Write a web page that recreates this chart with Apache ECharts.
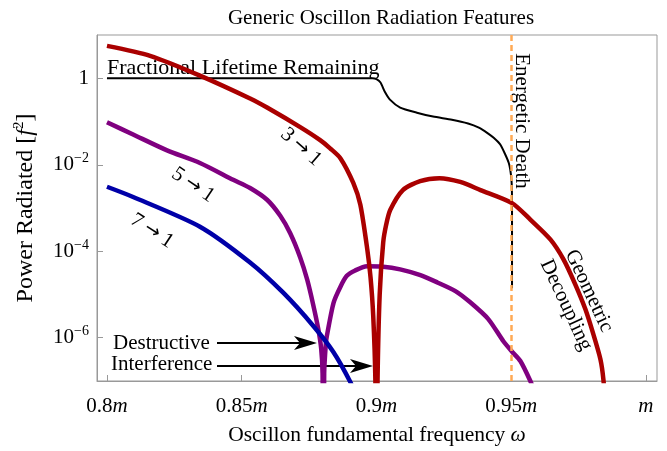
<!DOCTYPE html>
<html>
<head>
<meta charset="utf-8">
<script src="https://cdn.jsdelivr.net/npm/echarts@6/dist/echarts.min.js"></script>
<style>
  html, body { margin: 0; padding: 0; background: #fff; }
  #chart { width: 667px; height: 451px; }
</style>
</head>
<body>
<div id="chart"></div>
<script>
// frequencies are in units of m, power in f^2
const freq31 = [0.8, 0.816, 0.8345, 0.8531, 0.8594, 0.8717, 0.8791, 0.8828, 0.8866, 0.8914, 0.894, 0.8966, 0.8978, 0.8988, 0.8996, 0.9,
  0.9004, 0.9012, 0.9025, 0.9036, 0.9051, 0.9098, 0.9162, 0.9234, 0.9311, 0.9386, 0.9503, 0.9571, 0.9646, 0.9694, 0.9738, 0.9775, 0.9805, 0.9831, 0.9842, 0.9855];
const power31 = [5.6, 3.3, 1.15, 0.34, 0.21, 0.074, 0.037, 0.024, 0.0142, 3.8e-3, 1.2e-3, 1.1e-4, 2.5e-5, 3.2e-6, 1e-7, 1e-10,
  1e-7, 1e-5, 1.6e-4, 4.1e-4, 9e-4, 2.6e-3, 4.2e-3, 4.9e-3, 4.0e-3, 2.6e-3, 1.3e-3, 5.4e-4, 1.86e-4, 6.5e-5, 1.7e-5, 4.6e-6, 1.2e-6, 3.2e-7, 1.1e-7, 1e-8];

const freq51 = [0.8, 0.8097, 0.8223, 0.8345, 0.8468, 0.8531, 0.8594, 0.8643, 0.868, 0.8717, 0.8743, 0.8765, 0.8784, 0.8795, 0.88, 0.8803,
  0.8806, 0.8812, 0.8816, 0.8841, 0.8866, 0.889, 0.8921, 0.8965, 0.9025, 0.9088, 0.9163, 0.9226, 0.9293, 0.9348, 0.9415, 0.9471, 0.9504, 0.9534, 0.9571, 0.959];
const power51 = [0.096, 0.05, 0.0215, 0.011, 4.5e-3, 2.9e-3, 1.55e-3, 6.6e-4, 2.6e-4, 7.2e-5, 2.2e-5, 5.9e-6, 1.6e-6, 5.5e-7, 1.5e-7, 1e-10,
  1.5e-7, 7e-7, 1.1e-6, 6.5e-6, 1.5e-5, 2.7e-5, 3.6e-5, 4.5e-5, 4.4e-5, 3.8e-5, 2.8e-5, 1.9e-5, 1.2e-5, 6.6e-6, 2.7e-6, 8.3e-7, 4.7e-7, 2.9e-7, 1e-7, 5e-8];

const freq71 = [0.8, 0.8097, 0.8345, 0.8531, 0.8654, 0.8765, 0.884, 0.8903, 0.892];
const power71 = [3.1e-3, 1.8e-3, 3.7e-4, 5.5e-5, 1.1e-5, 1.9e-6, 4.7e-7, 9.5e-8, 5e-8];

const freqLife = [0.8, 0.8985, 0.9, 0.9015, 0.903, 0.905, 0.9088, 0.915, 0.921, 0.928, 0.934, 0.938, 0.9412, 0.9435,
  0.946, 0.9491, 0.9501, 0.9503, 0.9503];
const lifeLeft = [1, 1, 0.95, 0.8, 0.5, 0.32, 0.21, 0.16, 0.13, 0.11, 0.09, 0.072, 0.054, 0.042,
  0.029, 0.011, 0.0044, 0.0013, 1.4e-5];

const deathFreq = 0.9503;
const xTicks = [0.8, 0.85, 0.9, 0.95, 1.0];
const yTicks = [1, 1e-2, 1e-4, 1e-6];

const FONT = 'Liberation Serif';
const zip = (xs, ys) => xs.map((x, i) => [x, ys[i]]);

const chart = echarts.init(document.getElementById('chart'));

function curve(name, xs, ys, color, width, smooth) {
  return {
    name: name,
    type: 'line',
    data: zip(xs, ys),
    showSymbol: false,
    smooth: smooth,
    lineStyle: { color: color, width: width },
    clip: true,
    silent: true
  };
}

function arrow(x1, x2, y) {
  return [
    { type: 'line', shape: { x1: x1, y1: y, x2: x2 - 16, y2: y }, style: { stroke: '#000', lineWidth: 2 } },
    { type: 'polygon', shape: { points: [[x2, y], [x2 - 23, y - 7], [x2 - 17, y], [x2 - 23, y + 7]] }, style: { fill: '#000' } }
  ];
}

const textRich = {
  arr: { fontFamily: 'DejaVu Sans', fontSize: 19, fill: '#000', padding: [0, 5, 0, 5] }
};

function label(text, x, y, deg, size) {
  return {
    type: 'text', x: x, y: y, rotation: deg * Math.PI / 180,
    style: { text: text, font: size + 'px "' + FONT + '"', fill: '#000', align: 'center', verticalAlign: 'middle', rich: textRich }
  };
}

const supRich = {
  n: { fontFamily: FONT, fontSize: 21, lineHeight: 26, color: '#000' },
  i: { fontFamily: FONT, fontSize: 21, lineHeight: 26, fontStyle: 'italic', color: '#000' },
  sup: { fontFamily: FONT, fontSize: 14, lineHeight: 14, verticalAlign: 'top', color: '#000' }
};
const nameRich = {
  i: { fontFamily: FONT, fontSize: 24, lineHeight: 28, fontStyle: 'italic', color: '#000' },
  sup: { fontFamily: FONT, fontSize: 15, lineHeight: 15, verticalAlign: 'top', color: '#000' }
};

const option = {
  animation: false,
  backgroundColor: '#fff',
  grid: {
    left: 97, right: 10, top: 35, bottom: 70,
    outerBoundsMode: 'none',
    show: true, borderColor: '#999', borderWidth: 1
  },
  xAxis: {
    type: 'value',
    min: 0.7963,
    max: 1.0041,
    name: 'Oscillon fundamental frequency {i|ω}',
    nameLocation: 'middle',
    nameGap: 43,
    nameTextStyle: { fontFamily: FONT, fontSize: 21.5, color: '#000', rich: { i: { fontFamily: FONT, fontSize: 21.5, fontStyle: 'italic', color: '#000' } } },
    axisLine: { lineStyle: { color: '#999' } },
    axisTick: { inside: true, length: 6, lineStyle: { color: '#999' }, customValues: xTicks },
    splitLine: { show: false },
    axisLabel: {
      customValues: xTicks,
      margin: 12,
      formatter: v => (Math.abs(v - 1) < 1e-9 ? '{i|m}' : '{n|' + v + '}{i|m}'),
      rich: supRich
    }
  },
  yAxis: {
    type: 'log',
    logBase: 10,
    min: 1e-7,
    max: 10,
    name: 'Power Radiated [{i|f}{sup|2}]',
    nameLocation: 'middle',
    nameGap: 57,
    nameRotate: 90,
    nameTextStyle: { fontFamily: FONT, fontSize: 24, color: '#000', rich: nameRich },
    axisLine: { show: true, lineStyle: { color: '#999' } },
    axisTick: { show: true, inside: true, length: 6, lineStyle: { color: '#999' }, customValues: yTicks },
    splitLine: { show: false },
    minorTick: { show: false },
    axisLabel: {
      customValues: yTicks,
      margin: 8,
      formatter: v => {
        const e = Math.round(Math.log10(v));
        return e === 0 ? '{n|1}' : '{n|10}{sup|\u2212' + (-e) + '}';
      },
      rich: supRich
    }
  },
  series: [
    curve('Fractional Lifetime Remaining', freqLife, lifeLeft, '#000', 2, 0.2),
    curve('5 → 1', freq51, power51, '#800080', 4.5, 0.25),
    curve('7 → 1', freq71, power71, '#0000a8', 4.5, 0.25),
    curve('3 → 1', freq31, power31, '#aa0000', 4.5, 0.25),
    {
      name: 'Energetic Death',
      type: 'line',
      data: [],
      z: 5,
      markLine: {
        silent: true,
        symbol: ['none', 'none'],
        label: { show: false },
        lineStyle: { color: '#ffaa55', width: 2.5, type: [6, 4] },
        data: [{ xAxis: deathFreq }]
      }
    }
  ],
  graphic: [
    label('Generic Oscillon Radiation Features', 381, 18, 0, 21),
    {
      type: 'text', x: 107, y: 68,
      style: { text: 'Fractional Lifetime Remaining', font: '22px "' + FONT + '"', fill: '#000', align: 'left', verticalAlign: 'middle' }
    },
    label('3{arr|→}1', 301, 147, -41, 21),
    label('5{arr|→}1', 193, 185, -34, 21),
    label('7{arr|→}1', 152, 231, -33, 21),
    label('Energetic Death', 522, 121, -90, 21),
    label('Geometric', 589, 291, -65, 21),
    label('Decoupling', 566, 305, -65, 21),
    {
      type: 'text', x: 113, y: 343,
      style: { text: 'Destructive', font: '21px "' + FONT + '"', fill: '#000', align: 'left', verticalAlign: 'middle' }
    },
    {
      type: 'text', x: 111, y: 364,
      style: { text: 'Interference', font: '21px "' + FONT + '"', fill: '#000', align: 'left', verticalAlign: 'middle' }
    },
    ...arrow(217, 317, 343),
    ...arrow(217, 373, 366)
  ]
};

chart.setOption(option);
</script>
</body>
</html>
